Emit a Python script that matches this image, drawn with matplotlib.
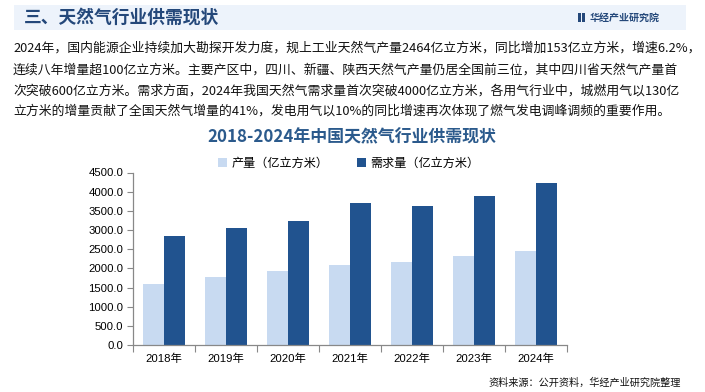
import matplotlib
matplotlib.use("Agg")
import matplotlib.pyplot as plt
import numpy as np
from matplotlib.patches import Rectangle

plt.rcParams['font.family'] = ['Noto Sans CJK SC', 'DejaVu Sans']

years = ["2018年", "2019年", "2020年", "2021年", "2022年", "2023年", "2024年"]
production = [1603, 1762, 1925, 2076, 2178, 2324, 2464]
demand = [2840, 3050, 3233, 3702, 3624, 3884, 4223]
series_names = ["产量（亿立方米）", "需求量（亿立方米）"]
yticks = [0, 500, 1000, 1500, 2000, 2500, 3000, 3500, 4000, 4500]

header_title = "三、天然气行业供需现状"
chart_title = "2018-2024年中国天然气行业供需现状"
brand = "华经产业研究院"
source = "资料来源：公开资料，华经产业研究院整理"
paragraph = [
    "2024年，国内能源企业持续加大勘探开发力度，规上工业天然气产量2464亿立方米，同比增加153亿立方米，增速6.2%，",
    "连续八年增量超100亿立方米。主要产区中，四川、新疆、陕西天然气产量仍居全国前三位，其中四川省天然气产量首",
    "次突破600亿立方米。需求方面，2024年我国天然气需求量首次突破4000亿立方米，各用气行业中，城燃用气以130亿",
    "立方米的增量贡献了全国天然气增量的41%，发电用气以10%的同比增速再次体现了燃气发电调峰调频的重要作用。",
]

W, H = 705, 392
fig = plt.figure(figsize=(W / 100, H / 100), dpi=100)
fig.patch.set_facecolor("white")

def fx(px):
    return px / W

def fy(py):
    return 1 - py / H

# header band
fig.patches.append(Rectangle((fx(14), fy(30)), fx(686) - fx(14), fy(5) - fy(30),
                             transform=fig.transFigure, facecolor="#edf3fb",
                             edgecolor="none", zorder=0))
fig.text(fx(24), fy(17.5), header_title, fontsize=12.8, fontweight="bold",
         color="#24487a", va="center", ha="left")
# brand icon
fig.patches.append(Rectangle((fx(578), fy(22)), fx(2.5), fy(13) - fy(22),
                             transform=fig.transFigure, facecolor="#24487a", edgecolor="none"))
fig.patches.append(Rectangle((fx(582), fy(22)), fx(2.5), fy(13) - fy(22),
                             transform=fig.transFigure, facecolor="#24487a", edgecolor="none"))
fig.text(fx(590), fy(17.5), brand, fontsize=7.2, fontweight="bold", color="#24487a",
         va="center", ha="left")

# paragraph
line_y = [48, 70, 91, 111]
for txt, yy in zip(paragraph, line_y):
    fig.text(fx(13), fy(yy), txt, fontsize=9.25, color="#111111", va="center", ha="left")

# chart title
fig.text(fx(352), fy(137), chart_title, fontsize=12.2, fontweight="bold",
         color="#2b5a8c", va="center", ha="center")

# axes
ax = fig.add_axes([fx(133), fy(345), fx(567) - fx(133), fy(172.5) - fy(345)])
x = np.arange(len(years))
bw = 0.34
c_light = "#c8daf1"
c_dark = "#21538f"
b1 = ax.bar(x - bw / 2, production, width=bw, color=c_light, label=series_names[0], zorder=2)
b2 = ax.bar(x + bw / 2, demand, width=bw, color=c_dark, label=series_names[1], zorder=2)

ax.set_xlim(-0.5, len(years) - 0.5)
ax.set_ylim(0, 4500)
ax.set_yticks(yticks)
ax.set_yticklabels([f"{v:.1f}" for v in yticks], fontsize=8.2,
                   family=["Liberation Sans", "DejaVu Sans"])
ax.set_xticks(x)
ax.set_xticklabels(years, fontsize=8.2, family=["Liberation Sans", "Noto Sans CJK SC"])
ax.tick_params(axis="x", which="major", length=0, pad=6)
ax.set_xticks(np.arange(-0.5, len(years)), minor=True)
ax.tick_params(axis="x", which="minor", length=5, color="#888888", width=0.8)
ax.tick_params(axis="y", length=4, color="#888888", width=0.8, pad=3)
for s in ["top", "right"]:
    ax.spines[s].set_visible(False)
for s in ["left", "bottom"]:
    ax.spines[s].set_color("#888888")
    ax.spines[s].set_linewidth(0.9)
ax.set_facecolor("none")

leg = fig.legend(handles=[b1, b2], labels=series_names, loc="center",
                 bbox_to_anchor=(fx(349), fy(163)), ncol=2, frameon=False,
                 fontsize=8.7, handlelength=0.7, handleheight=0.7,
                 handletextpad=0.4, columnspacing=2.4)

fig.text(fx(681), fy(383), source, fontsize=7.3, color="#111111", va="center", ha="right")

fig.savefig("out.png", dpi=100)
